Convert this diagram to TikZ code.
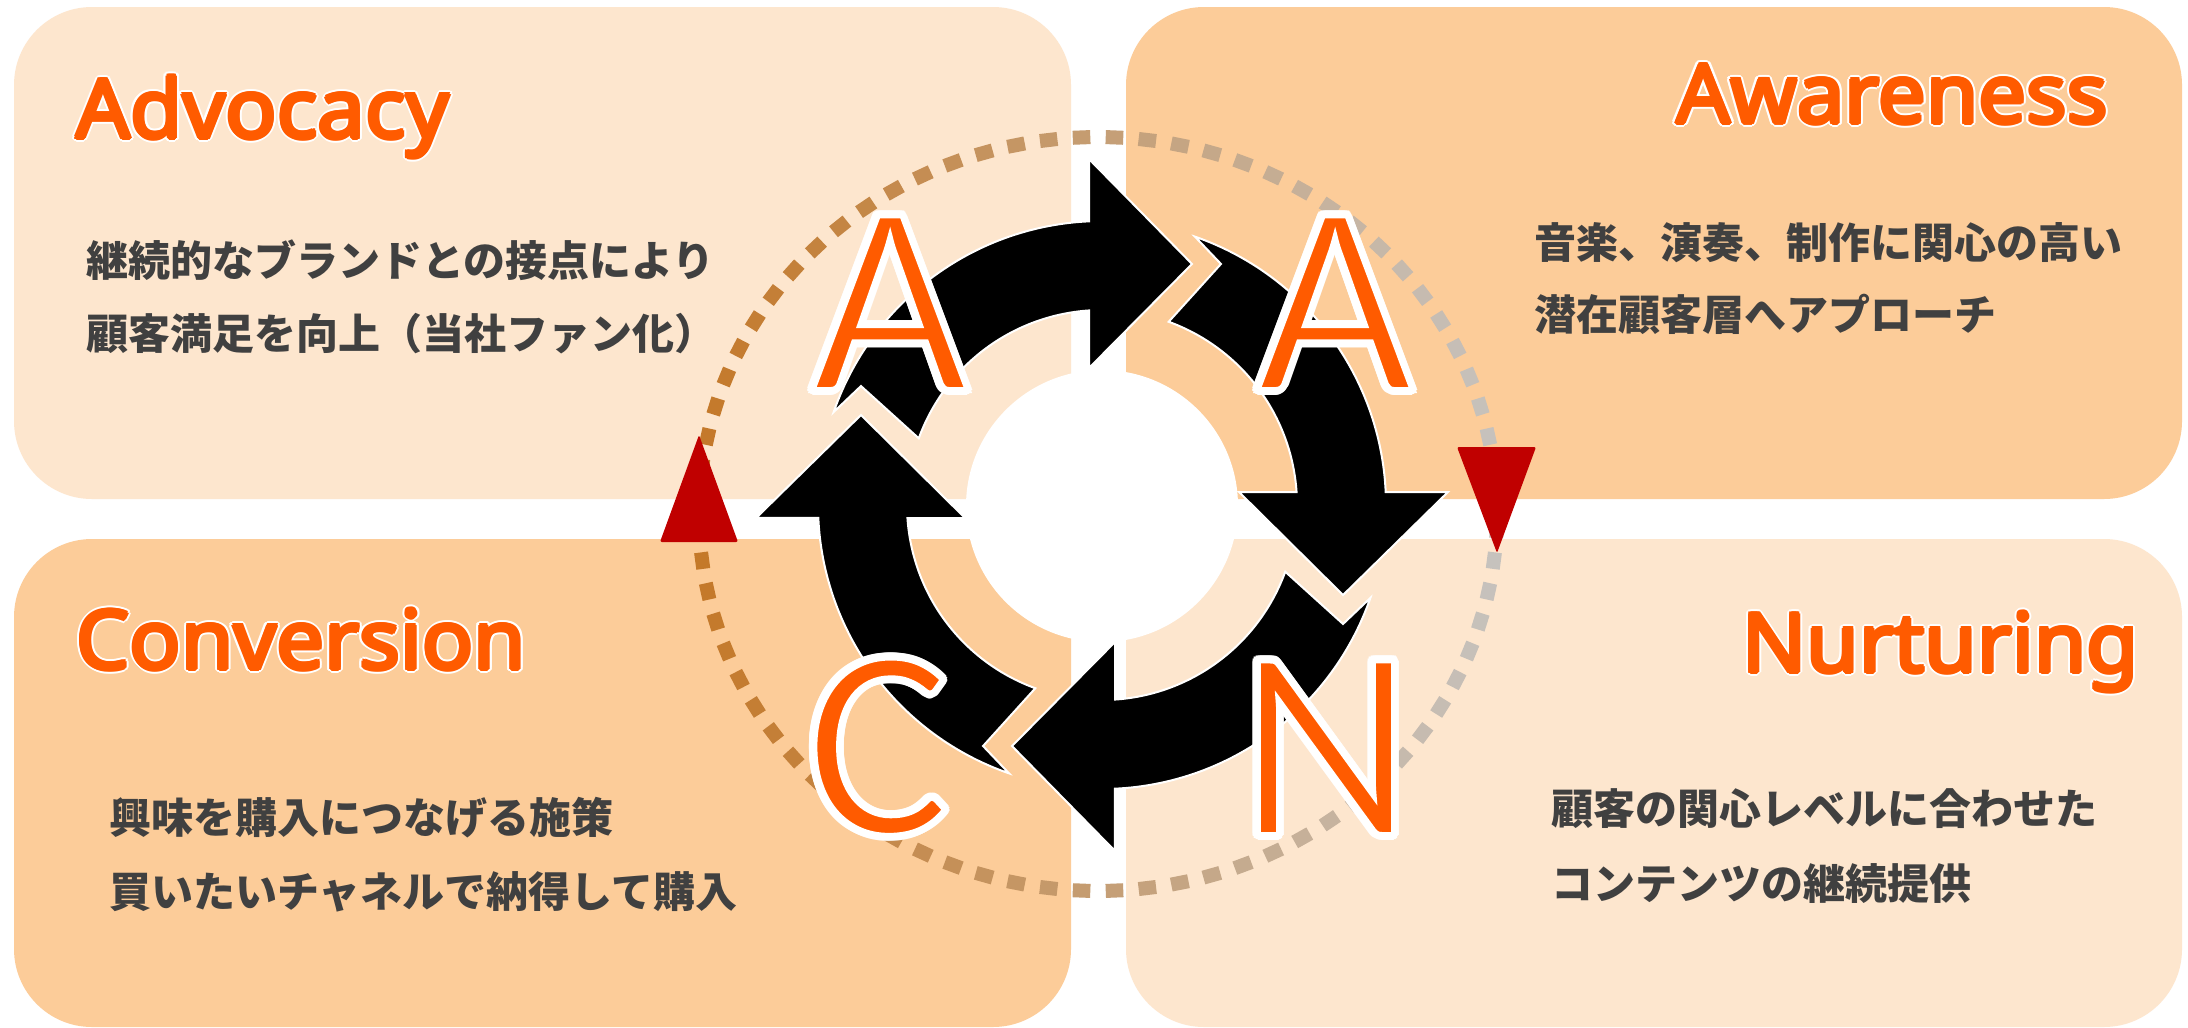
\documentclass[tikz,border=0pt]{standalone}
\usepackage{fontspec}
\setmainfont{Noto Sans}
\newfontfamily\ttlfam{Noto Sans}[FakeStretch=1.035]
\newfontfamily\jpfont{Noto Sans CJK JP}
\newfontfamily\bigfont{Carlito}
\definecolor{boxL}{HTML}{FDE6CE}
\definecolor{boxD}{HTML}{FCCC99}
\definecolor{orng}{HTML}{FF5B00}
\definecolor{txt}{HTML}{404040}
\definecolor{tri}{HTML}{C00000}
\definecolor{dbrown}{HTML}{C47828}
\definecolor{dgray}{HTML}{C6C2BD}
\tikzset{
  panel/.style={rounded corners=78bp},
  cyc/.style={fill=black, draw=white, line width=2bp},
  redtri/.style={fill=tri, rounded corners=2bp},
  jp/.style={anchor=base west, inner sep=0, text=txt, font=\jpfont\bfseries\fontsize{42bp}{50bp}\selectfont},
}
% #1 name, #2 position, #3 anchor, #4 font, #5 white radius, #6 orange (bold) radius, #7 text
\newcommand\outl[7]{%
  \foreach \k in {0,...,15}{\node[anchor=#3, inner sep=0, text=white, font=#4] (#1-w\k) at ([shift={(\k*22.5:#5)}]#2) {#7};}
  \foreach \k in {0,...,7}{\node[anchor=#3, inner sep=0, text=orng, font=#4] (#1-o\k) at ([shift={(\k*45:#6)}]#2) {#7};}
  \node[anchor=#3, inner sep=0, text=orng, font=#4] (#1) at (#2) {#7};
}
% big letter: white outline outside, orange fill, white stroke eating into the glyph
\newcommand\bigletter[4]{%
  \foreach \k in {0,...,15}{\node[anchor=base, inner sep=0, text=white, font=\letfont] (#1-w\k) at ([shift={(\k*22.5:#3)}]#2) {#4};}
  \node[anchor=base, inner sep=0, text=orng, font=\letfont] (#1) at (#2) {#4};
  \node[anchor=base, inner sep=0, text=white, font=\letfont] (#1-s) at (#2) {\special{pdf:literal direct 1 Tr 6 w}#4\special{pdf:literal direct 0 Tr 1 w}};
}
\newcommand\cycarrow[1]{%
  \pgfmathsetmacro\oa{109.1+#1}\pgfmathsetmacro\ob{177.38+#1}%
  \pgfmathsetmacro\ia{176.18+#1}\pgfmathsetmacro\ib{110+#1}%
  \path[cyc] plot[domain=\oa:\ob, samples=60] (\x:284)
    -- (177.85+#1:346.2) -- (200.48+#1:257.3) -- (174.58+#1:137.6)
    -- plot[domain=\ia:\ib, samples=60] (\x:195) -- (116.27+#1:268.8) -- cycle;
}
\newcommand\ttlfont{\ttlfam\fontsize{82bp}{90bp}\selectfont}
\newcommand\letfont{\bigfont\fontsize{272bp}{280bp}\selectfont}
\begin{document}
\begin{tikzpicture}[x=1bp,y=-1bp]
\useasboundingbox (0,0) rectangle (2188,1027);
\fill[white] (0,0) rectangle (2188,1027);
% panels
\fill[panel, boxL] (14,7) rectangle (1071,499);
\fill[panel, boxD] (1126,7) rectangle (2182,499);
\fill[panel, boxD] (14,539) rectangle (1071,1027);
\fill[panel, boxL] (1126,539) rectangle (2182,1027);
% dotted ellipse
\foreach \i in {0,...,75}{
  \pgfmathsetmacro\ta{-3.63+\i*4.73684}
  \pgfmathsetmacro\tb{\ta+2.52}
  \pgfmathtruncatemacro\mx{50*(1-cos(\ta+1.26))}
  \draw[line width=14bp, color=dbrown!\mx!dgray] ([shift={(1098,514)}]\ta:399 and 377) -- ([shift={(1098,514)}]\tb:399 and 377);
}
% cycle arrows
\begin{scope}[shift={(1102,505)}]
\cycarrow{0}
\cycarrow{90}
\cycarrow{180}
\cycarrow{270}
\end{scope}
\fill[white] (1102,506) circle[radius=136];
% big letters
\bigletter{LA1}{890,390}{5}{A}
\bigletter{LA2}{1335,390}{5}{A}
\bigletter{LC}{878,834}{5}{C}
\bigletter{LN}{1326,835}{5}{N}
% red triangles
\fill[redtri] (699,435) -- (738,542) -- (660,542) -- cycle;
\fill[redtri] (1457,447) -- (1536,447) -- (1497,553) -- cycle;
% titles
\outl{T1}{76,138}{base west}{\ttlfont}{4}{2}{Advocacy}
\outl{T2}{2108,123}{base east}{\ttlfont}{4}{2}{Awareness}
\outl{T3}{76,669}{base west}{\ttlfont}{4}{2}{Conversion}
\outl{T4}{2139,672}{base east}{\ttlfont}{4}{2}{Nurturing}
% texts
\node[jp] (ad1) at (86,276) {継続的なブランドとの接点により};
\node[jp] (ad2) at (86,349) {顧客満足を向上（当社ファン化）};
\node[jp] (aw1) at (1534,258) {音楽、演奏、制作に関心の高い};
\node[jp] (aw2) at (1534,330) {潜在顧客層へアプローチ};
\node[jp] (cv1) at (109,833) {興味を購入につなげる施策};
\node[jp] (cv2) at (109,907) {買いたいチャネルで納得して購入};
\node[jp] (nu1) at (1551,824) {顧客の関心レベルに合わせた};
\node[jp] (nu2) at (1551,899) {コンテンツの継続提供};
\end{tikzpicture}
\end{document}
